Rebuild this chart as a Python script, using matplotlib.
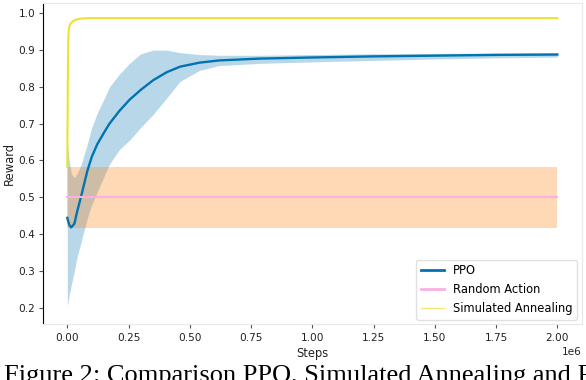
import matplotlib
matplotlib.use("Agg")
import matplotlib.pyplot as plt
from matplotlib.lines import Line2D
import numpy as np

# PPO (steps in millions)
ppo_steps = [0, 0.008, 0.016, 0.029, 0.041, 0.057, 0.082, 0.10, 0.123, 0.152, 0.172, 0.213,
             0.254, 0.30, 0.35, 0.406, 0.46, 0.54, 0.62, 0.787, 1.0, 1.25, 1.5, 1.75, 2.0]
ppo_mean = [0.444, 0.425, 0.418, 0.428, 0.463, 0.504, 0.572, 0.61, 0.645, 0.678, 0.70, 0.735,
            0.765, 0.792, 0.818, 0.84, 0.855, 0.866, 0.872, 0.877, 0.880, 0.883, 0.885, 0.887, 0.888]
ppo_upper = [0.648, 0.60, 0.565, 0.553, 0.565, 0.59, 0.645, 0.69, 0.73, 0.77, 0.80, 0.835,
             0.864, 0.89, 0.90, 0.90, 0.893, 0.888, 0.886, 0.886, 0.888, 0.89, 0.891, 0.892, 0.893]
ppo_lower = [0.205, 0.235, 0.26, 0.30, 0.34, 0.38, 0.444, 0.48, 0.515, 0.56, 0.59, 0.63,
             0.655, 0.69, 0.725, 0.77, 0.815, 0.845, 0.858, 0.864, 0.868, 0.872, 0.876, 0.879, 0.881]

# Random action
rand_steps = [0, 2.0]
rand_mean = [0.5, 0.5]
rand_upper = [0.583, 0.583]
rand_lower = [0.417, 0.417]

# Simulated annealing
sa_steps = [0, 0.002, 0.004, 0.006, 0.01, 0.02, 0.035, 0.06, 0.1, 0.5, 1.0, 1.5, 2.0]
sa_mean = [0.583, 0.80, 0.93, 0.955, 0.968, 0.977, 0.983, 0.986, 0.987, 0.987, 0.987, 0.987, 0.987]

C_PPO = "#0173b2"
C_RAND = "#fbafe4"
C_SA = "#ece133"

fig = plt.figure(figsize=(5.86, 3.80), dpi=100)
ax = fig.add_axes([0.073, 0.147, 0.92, 0.845])

x = np.array(ppo_steps) * 1e6
ax.fill_between(x, ppo_lower, ppo_upper, color=C_PPO, alpha=0.28, lw=0)
xr = np.array(rand_steps) * 1e6
ax.fill_between(xr, rand_lower, rand_upper, color="#ff7f0e", alpha=0.3, lw=0)
ax.plot(x, ppo_mean, color=C_PPO, lw=1.7)
ax.plot(xr, rand_mean, color=C_RAND, lw=1.5)
ax.plot(np.array(sa_steps) * 1e6, sa_mean, color=C_SA, lw=1.5)

ax.set_xlim(-0.1e6, 2.1e6)
ax.set_ylim(0.155, 1.028)
ax.set_xticks(np.arange(0, 2.01e6, 0.25e6))
ax.set_yticks(np.arange(0.2, 1.01, 0.1))
ax.tick_params(labelsize=7.6, length=3, color="#555555", labelcolor="#222222")
ax.tick_params(axis="y", pad=2.5)
ax.xaxis.get_offset_text().set_fontsize(7.6)

for s in ("top", "right", "bottom"):
    ax.spines[s].set_color("#e8e8e8")
ax.spines["left"].set_color("black")

ax.set_xlabel("Steps", fontsize=8.3, color="#222222", labelpad=3)
ax.set_ylabel("Reward", fontsize=8.3, color="#222222", labelpad=2)

handles = [Line2D([], [], color=C_PPO, lw=2),
           Line2D([], [], color=C_RAND, lw=2),
           Line2D([], [], color=C_SA, lw=1, alpha=0.7)]
ax.legend(handles, ["PPO", "Random Action", "Simulated Annealing"], loc="lower right",
          fontsize=8.3, borderaxespad=0.4, framealpha=0.9, edgecolor="#dddddd")

fig.text(0.006, 1 - 365 / 380, "Figure 2: Comparison PPO, Simulated Annealing and Random",
         family="Liberation Serif", fontsize=19, va="top", ha="left")

fig.savefig("out.png", dpi=100)
